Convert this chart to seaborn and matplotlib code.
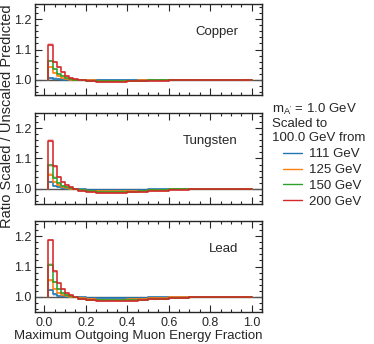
import numpy as np
import pandas as pd
import seaborn as sns
import matplotlib.pyplot as plt
from matplotlib.ticker import AutoMinorLocator, MultipleLocator

# bin edges of the ratio histograms (fine near zero, coarser in the flat tail)
edges = [0.02, 0.04, 0.06, 0.08, 0.10, 0.12, 0.14, 0.16, 0.20, 0.25, 0.30,
         0.35, 0.40, 0.45, 0.50, 0.60, 0.70, 0.80, 0.90, 1.00]

materials = ["Copper", "Tungsten", "Lead"]
energies = ["111 GeV", "125 GeV", "150 GeV", "200 GeV"]
colors = ["#1f77b4", "#ff7f0e", "#2ca02c", "#d62728"]

copper_111 = [1.005, 1.004, 1.002, 1.001, 1.000, 1.000, 1.000, 0.999, 0.999, 0.999,
              0.999, 0.999, 0.999, 0.999, 1.000, 1.000, 1.000, 1.000, 1.000]
copper_125 = [1.043, 1.022, 1.012, 1.006, 1.003, 1.001, 1.000, 0.999, 0.998, 0.997,
              0.997, 0.997, 0.997, 0.998, 0.999, 1.000, 1.000, 1.000, 1.000]
copper_150 = [1.062, 1.035, 1.020, 1.012, 1.006, 1.002, 1.000, 0.998, 0.997, 0.996,
              0.996, 0.996, 0.996, 0.997, 0.998, 0.999, 1.000, 1.000, 1.000]
copper_200 = [1.116, 1.058, 1.042, 1.025, 1.014, 1.006, 1.002, 0.998, 0.996, 0.994,
              0.994, 0.994, 0.995, 0.996, 0.997, 0.999, 1.000, 1.000, 1.000]

tungsten_111 = [1.022, 1.010, 1.005, 1.002, 1.001, 1.000, 0.999, 0.998, 0.997, 0.996,
                0.996, 0.996, 0.997, 0.997, 0.998, 0.999, 1.000, 1.000, 1.000]
tungsten_125 = [1.047, 1.022, 1.012, 1.006, 1.003, 1.001, 0.999, 0.996, 0.994, 0.992,
                0.992, 0.992, 0.993, 0.994, 0.996, 0.998, 1.000, 1.000, 1.000]
tungsten_150 = [1.077, 1.037, 1.018, 1.010, 1.005, 1.002, 0.999, 0.995, 0.992, 0.990,
                0.990, 0.990, 0.991, 0.993, 0.995, 0.998, 0.999, 1.000, 1.000]
tungsten_200 = [1.159, 1.074, 1.039, 1.023, 1.012, 1.005, 1.000, 0.994, 0.990, 0.987,
                0.987, 0.987, 0.988, 0.990, 0.993, 0.997, 0.999, 1.000, 1.000]

lead_111 = [1.022, 1.008, 1.004, 1.002, 1.001, 1.000, 0.999, 0.998, 0.997, 0.996,
            0.996, 0.996, 0.997, 0.997, 0.998, 0.999, 1.000, 1.000, 1.000]
lead_125 = [1.054, 1.025, 1.013, 1.007, 1.003, 1.001, 0.999, 0.995, 0.993, 0.991,
            0.991, 0.991, 0.992, 0.993, 0.995, 0.998, 0.999, 1.000, 1.000]
lead_150 = [1.106, 1.049, 1.025, 1.013, 1.006, 1.002, 0.999, 0.994, 0.990, 0.988,
            0.988, 0.988, 0.989, 0.991, 0.994, 0.997, 0.999, 1.000, 1.000]
lead_200 = [1.187, 1.084, 1.044, 1.025, 1.012, 1.006, 1.000, 0.993, 0.988, 0.985,
            0.985, 0.985, 0.986, 0.988, 0.992, 0.996, 0.999, 1.000, 1.000]

band_err = [0.004, 0.004, 0.003, 0.003, 0.003, 0.003, 0.003, 0.003, 0.003, 0.003,
            0.003, 0.003, 0.003, 0.003, 0.002, 0.002, 0.001, 0.001, 0.001]

ratios = {
    "Copper": [copper_111, copper_125, copper_150, copper_200],
    "Tungsten": [tungsten_111, tungsten_125, tungsten_150, tungsten_200],
    "Lead": [lead_111, lead_125, lead_150, lead_200],
}

sns.set_style("ticks")
plt.rcParams['font.family'] = ['Liberation Sans', 'DejaVu Sans']
plt.rcParams['font.size'] = 9.5
plt.rcParams['mathtext.fontset'] = 'custom'
plt.rcParams['mathtext.rm'] = 'Liberation Sans'
plt.rcParams['mathtext.it'] = 'Liberation Sans'
plt.rcParams['mathtext.fallback'] = 'stixsans'

fig = plt.figure(figsize=(3.74, 3.44), dpi=100)
bottoms = [0.7238, 0.407, 0.093]
axes = [fig.add_axes([0.0936, b, 0.607, 0.2645]) for b in bottoms]

for ax, mat in zip(axes, materials):
    ax.axhline(1.0, color="#555555", lw=1.0, zorder=1)
    rows = []
    for lab, vals in zip(energies, ratios[mat]):
        # start each stair at the unity baseline so the left riser is drawn
        xs = [edges[0]] + edges
        ys = [1.0] + vals + [vals[-1]]
        for x, y in zip(xs, ys):
            rows.append({"x": x, "ratio": y, "energy": lab})
    df = pd.DataFrame(rows)
    for lab, col, vals in zip(energies, colors, ratios[mat]):
        v = np.array(vals + [vals[-1]])
        e = np.array(band_err + [band_err[-1]])
        ax.fill_between(edges, v - e, v + e, step="post", color=col,
                        alpha=0.3, lw=0, zorder=2)
    sns.lineplot(data=df, x="x", y="ratio", hue="energy", palette=colors,
                 drawstyle="steps-post", lw=1.15, legend=False, ax=ax,
                 estimator=None, sort=False, zorder=3)
    ax.set_xlim(-0.045, 1.05)
    ax.set_ylim(0.95, 1.25)
    ax.xaxis.set_major_locator(MultipleLocator(0.2))
    ax.xaxis.set_minor_locator(AutoMinorLocator(4))
    ax.yaxis.set_major_locator(MultipleLocator(0.1))
    ax.yaxis.set_minor_locator(AutoMinorLocator(5))
    ax.tick_params(which="both", direction="in", top=True, right=True,
                   labelsize=9, width=0.8)
    ax.tick_params(which="major", length=5)
    ax.tick_params(which="minor", length=2.5)
    ax.tick_params(axis="y", pad=2.5)
    for s in ax.spines.values():
        s.set_linewidth(1.0)
    ax.set_xlabel("")
    ax.set_ylabel("")
    ax.text(0.894, 0.69, mat, transform=ax.transAxes, ha="right",
            va="center", fontsize=9.5)
    if ax is not axes[-1]:
        ax.tick_params(labelbottom=False)

fig.text(7 / 374, 1 - 4 / 344, "Ratio Scaled / Unscaled Predicted",
         rotation=90, ha="center", va="top", fontsize=10.5)
axes[-1].set_xlabel("Maximum Outgoing Muon Energy Fraction", loc="right",
                    fontsize=9.5, labelpad=1)

fig.text(272 / 374, 1 - 102 / 344,
         "m$_\\mathregular{A'}$ = 1.0 GeV\nScaled to\n100.0 GeV from",
         ha="left", va="top", fontsize=9.5, linespacing=1.15)
handles = [plt.Line2D([], [], color=c, lw=1.0) for c in colors]
fig.legend(handles, energies, loc="upper left",
           bbox_to_anchor=(283 / 374, 1 - 148 / 344), frameon=False,
           fontsize=9.5, handlelength=1.45, handletextpad=0.55,
           labelspacing=0.28, borderpad=0, borderaxespad=0)

fig.savefig("out.png", dpi=100)
